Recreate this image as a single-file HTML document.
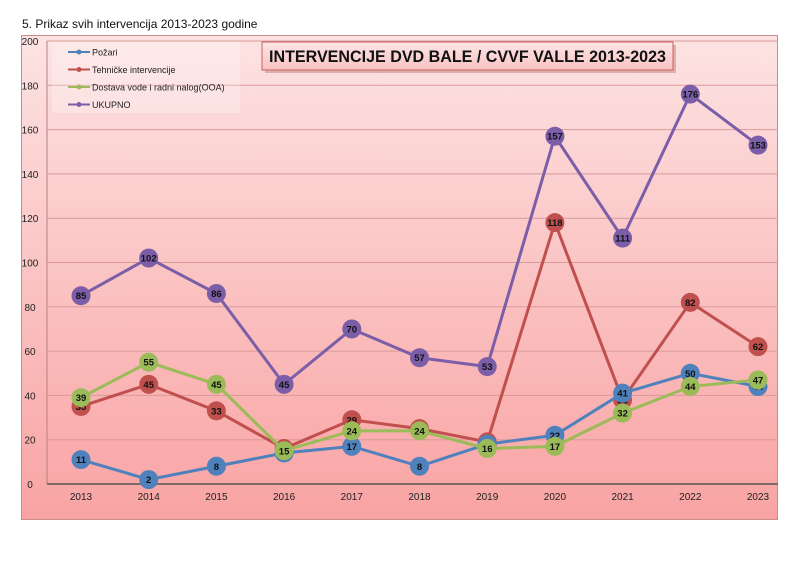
<!DOCTYPE html>
<html><head><meta charset="utf-8">
<style>
body{margin:0;background:#fff;width:810px;height:573px;overflow:hidden;font-family:"Liberation Sans",Arial,sans-serif;}
</style></head>
<body>
<svg id="chart" width="810" height="573" xmlns="http://www.w3.org/2000/svg" font-family="Liberation Sans, Arial, sans-serif">
<defs>
<linearGradient id="bg" x1="0" y1="0" x2="0" y2="1">
<stop offset="0" stop-color="#fde3e3"/><stop offset="1" stop-color="#f9a3a3"/>
</linearGradient>
<linearGradient id="tb" x1="0" y1="0" x2="0" y2="1">
<stop offset="0" stop-color="#fde6e6"/><stop offset="1" stop-color="#f9c2c2"/>
</linearGradient>
</defs>
<text x="22" y="28" font-size="12" fill="#111">5. Prikaz svih intervencija 2013-2023 godine</text>
<rect x="21.5" y="35.5" width="756" height="484" fill="url(#bg)" stroke="#c98a8a"/>
<g id="grid"></g>
<g id="series"></g>
<rect x="52" y="42" width="188" height="71" fill="#ffffff" fill-opacity="0.25"/>
<g id="legend"></g>
<rect x="265" y="45" width="411" height="28" fill="#c08080" opacity="0.5"/>
<rect x="262" y="42" width="411" height="28" fill="url(#tb)" stroke="#c96060"/>
<text x="269" y="62" font-size="17" font-weight="bold" textLength="397" lengthAdjust="spacingAndGlyphs" fill="#111">INTERVENCIJE DVD BALE / CVVF VALLE 2013-2023</text>
</svg>
<script>
const years=["2013","2014","2015","2016","2017","2018","2019","2020","2021","2022","2023"];
const pozari=[11,2,8,14,17,8,18,22,41,50,44];
const tehnicke=[35,45,33,16,29,25,19,118,38,82,62];
const dostava=[39,55,45,15,24,24,16,17,32,44,47];
const ukupno=[85,102,86,45,70,57,53,157,111,176,153];
const yTicks=[0,20,40,60,80,100,120,140,160,180,200];
const seriesNames=["Požari","Tehničke intervencije","Dostava vode i radni nalog(OOA)","UKUPNO"];
const NS="http://www.w3.org/2000/svg";
const x=i=>81+i*(758-81)/(years.length-1);
const y=v=>484-v*(484-41)/200;
function mk(tag,attrs,parent){const e=document.createElementNS(NS,tag);for(const k in attrs)e.setAttribute(k,attrs[k]);parent.appendChild(e);return e;}
const grid=document.getElementById('grid');
mk('line',{x1:47,y1:41,x2:47,y2:484,stroke:'#b98080'},grid);
yTicks.forEach(t=>{
  const l=mk('line',{x1:47,y1:y(t),x2:778,y2:y(t),stroke:t===0?'#555':'#d99a9a','stroke-width':t===0?1.5:1},grid);
  
  
  const tx=mk('text',{x:30,y:y(t)+4,'font-size':10,'text-anchor':'middle',fill:'#222'},grid);
  tx.textContent=t;
  
  
});
years.forEach((yr,i)=>{
  const tx=mk('text',{x:x(i),y:500,'font-size':10,'text-anchor':'middle',fill:'#222'},grid);
  tx.textContent=yr;
  
  
});
const all=[[ukupno,'#7b5ea7'],[tehnicke,'#c0504d'],[pozari,'#4f81bd'],[dostava,'#9bbb59']];
const sg=document.getElementById('series');
all.forEach(([d,c],si)=>{
  const g=mk('g',{},sg);
  
  
  mk('polyline',{points:d.map((v,i)=>x(i)+','+y(v)).join(' '),fill:'none',stroke:c,'stroke-width':3},g);
  d.forEach((v,i)=>{
    const cc=mk('circle',{cx:x(i),cy:y(v),r:9.5,fill:c},g);
    
    
    const t=mk('text',{x:x(i),y:y(v)+3.5,'font-size':9.5,'font-weight':'bold','text-anchor':'middle',fill:'#111'},g);
    t.textContent=v;
    
    
  });
});
const lg=document.getElementById('legend');
const lc=['#4f81bd','#c0504d','#9bbb59','#7b5ea7'];
seriesNames.forEach((n,i)=>{
  const yy=52+i*17.5;
  mk('line',{x1:68,y1:yy,x2:90,y2:yy,stroke:lc[i],'stroke-width':2},lg);
  mk('circle',{cx:79,cy:yy,r:2.5,fill:lc[i]},lg);
  const t=mk('text',{x:92,y:yy+3.5,'font-size':9,fill:'#222'},lg);
  t.textContent=n;
  
  
});
</script>
</body></html>
